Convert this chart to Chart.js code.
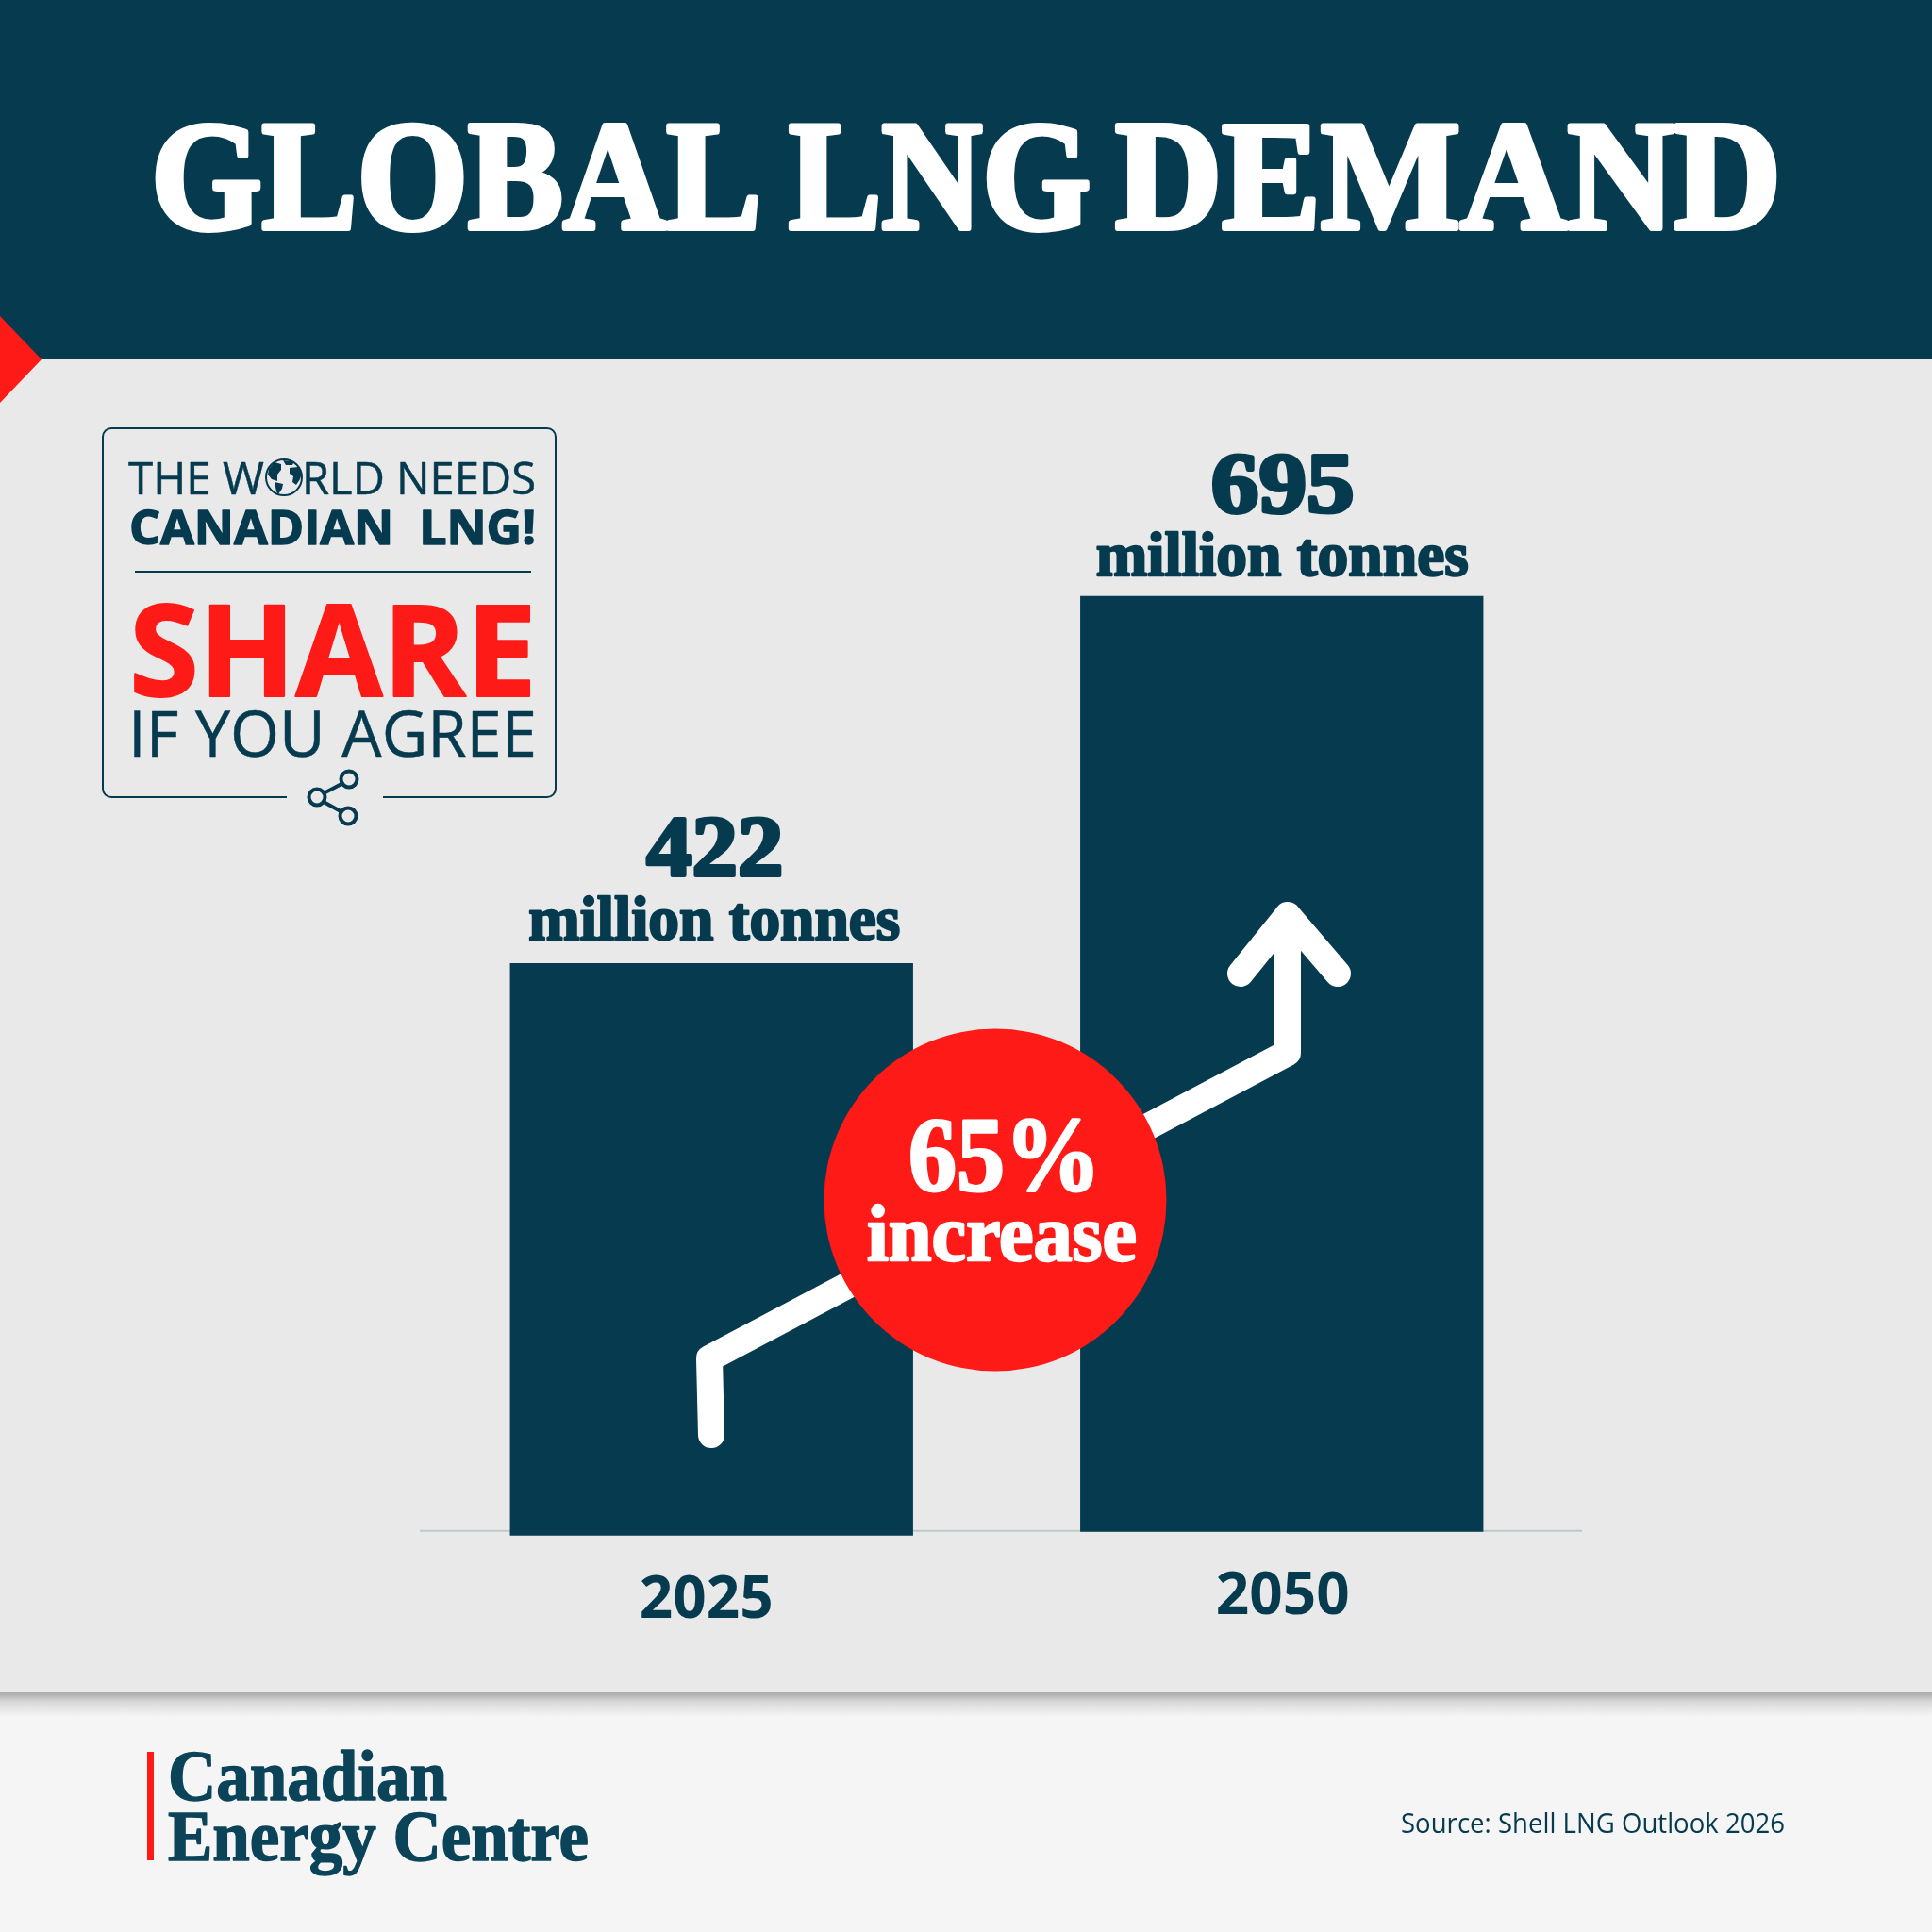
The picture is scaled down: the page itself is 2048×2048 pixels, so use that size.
<!DOCTYPE html>
<html>
<head>
<meta charset="utf-8">
<title>Global LNG Demand</title>
<script src="https://cdn.jsdelivr.net/npm/chart.js@4"></script>
<style>
  html, body { margin: 0; padding: 0; background: #e9e9ea; }
  canvas { display: block; }
</style>
</head>
<body>
<canvas id="lngChart" width="2048" height="2048"></canvas>
<script>
// chart data
const categories = ['2025', '2050'];
const demandValues = [422, 695];
const valueUnit = 'million tonnes';

const NAVY = '#063a4e';
const RED = '#fe1b17';
const PANEL = '#e9e9ea';
const SERIF = '"Liberation Serif"';
const SANS = '"Open Sans"';

// the two bars do not sit exactly on the axis line in the original
const barBases = [-3.5, -0.7];
const tickNudge = [[-5.5, 4], [1, 0]];

// draw text squeezed or stretched to a given left/right edge
function fitText(ctx, text, left, right, baseline, font, color, stroke) {
    ctx.save();
    ctx.font = font;
    ctx.fillStyle = color;
    ctx.textAlign = 'left';
    ctx.textBaseline = 'alphabetic';
    const w = ctx.measureText(text).width;
    ctx.translate(left, baseline);
    ctx.scale((right - left) / w, 1);
    ctx.fillText(text, 0, 0);
    if (stroke) {
        ctx.strokeStyle = color;
        ctx.lineWidth = stroke;
        ctx.lineJoin = 'round';
        ctx.strokeText(text, 0, 0);
    }
    ctx.restore();
}

// header, panel and footer behind the bars
const backgroundPlugin = {
    id: 'background',
    beforeDraw(chart) {
        const ctx = chart.ctx;
        ctx.save();
        ctx.fillStyle = PANEL;
        ctx.fillRect(0, 381, 2048, 1413);

        ctx.fillStyle = NAVY;
        ctx.fillRect(0, 0, 2048, 381);

        ctx.fillStyle = RED;
        ctx.beginPath();
        ctx.moveTo(0, 335);
        ctx.lineTo(44, 381);
        ctx.lineTo(0, 427);
        ctx.closePath();
        ctx.fill();

        ctx.fillStyle = '#f5f5f5';
        ctx.fillRect(0, 1794, 2048, 254);
        const shadow = ctx.createLinearGradient(0, 1794, 0, 1820);
        shadow.addColorStop(0, '#a9a9a9');
        shadow.addColorStop(0.4, '#d9d9d9');
        shadow.addColorStop(1, '#f5f5f5');
        ctx.fillStyle = shadow;
        ctx.fillRect(0, 1794, 2048, 26);
        ctx.restore();

        // axis line runs a bit wider than the plot area
        const x = chart.scales.x;
        const zero = chart.scales.y.getPixelForValue(0);
        ctx.save();
        ctx.strokeStyle = '#bcc9c9';
        ctx.lineWidth = 2;
        ctx.beginPath();
        ctx.moveTo(x.left - 7, zero);
        ctx.lineTo(x.right + 16, zero);
        ctx.stroke();
        ctx.restore();
    },
    afterUpdate(chart) {
        // small per-bar offsets seen in the reference
        const meta = chart.getDatasetMeta(0);
        meta.data.forEach((bar, i) => {
            bar.base = chart.scales.y.getPixelForValue(barBases[i]);
        });
        chart.scales.x.getLabelItems().forEach((item, i) => {
            item.options.translation[0] += tickNudge[i][0];
            item.options.translation[1] += tickNudge[i][1];
        });
    }
};

// value labels above each bar
const valueLabelPlugin = {
    id: 'valueLabels',
    afterDatasetsDraw(chart) {
        const ctx = chart.ctx;
        const bars = chart.getDatasetMeta(0).data;
        const numberBox = [[-69, 76], [-75, 77]];
        const unitBox = [[-194, 200], [-197, 198]];
        const numberGap = [93, 89];
        const unitGap = [25, 22];
        bars.forEach((bar, i) => {
            fitText(ctx, String(demandValues[i]), bar.x + numberBox[i][0], bar.x + numberBox[i][1],
                bar.y - numberGap[i], 'bold 90px ' + SERIF, NAVY, 4);
            fitText(ctx, valueUnit, bar.x + unitBox[i][0], bar.x + unitBox[i][1],
                bar.y - unitGap[i], 'bold 65px ' + SERIF, NAVY, 2.4);
        });
    }
};

// title, arrow, red badge, share box and footer
const overlayPlugin = {
    id: 'overlay',
    afterDraw(chart) {
        const ctx = chart.ctx;

        // title
        const titleFont = 'bold 166px ' + SERIF;
        fitText(ctx, 'GLOBAL', 160, 807, 242, titleFont, '#ffffff', 6);
        fitText(ctx, 'LNG', 836, 1156, 242, titleFont, '#ffffff', 6);
        fitText(ctx, 'DEMAND', 1182, 1888, 242, titleFont, '#ffffff', 6);

        // rising arrow
        ctx.save();
        ctx.strokeStyle = '#ffffff';
        ctx.lineWidth = 28;
        ctx.lineCap = 'round';
        ctx.lineJoin = 'round';
        ctx.beginPath();
        ctx.moveTo(754, 1521);
        ctx.lineTo(752, 1440);
        ctx.lineTo(1365, 1116);
        ctx.lineTo(1365, 970);
        ctx.moveTo(1315, 1032);
        ctx.lineTo(1365, 970);
        ctx.lineTo(1418, 1032);
        ctx.stroke();

        // badge
        ctx.fillStyle = RED;
        ctx.beginPath();
        ctx.arc(1055, 1272, 181.5, 0, Math.PI * 2);
        ctx.fill();
        ctx.restore();
        fitText(ctx, '65%', 963, 1167, 1262, 'bold 112px ' + SERIF, '#ffffff', 3);
        fitText(ctx, 'increase', 919, 1205, 1336, 'bold 84px ' + SERIF, '#ffffff', 2.5);

        drawShareBox(ctx);

        // footer logo and source
        ctx.save();
        ctx.fillStyle = RED;
        ctx.fillRect(156, 1857, 7, 115);
        ctx.restore();
        fitText(ctx, 'Canadian', 178, 474, 1908, 'bold 76px ' + SERIF, '#0b4459', 1.5);
        fitText(ctx, 'Energy Centre', 178, 624, 1972, 'bold 76px ' + SERIF, '#0b4459', 1.5);
        fitText(ctx, 'Source: Shell LNG Outlook 2026', 1485, 1892, 1943, '29px ' + SANS, NAVY);
    }
};

function fillShape(ctx, points) {
    ctx.beginPath();
    points.forEach((p, i) => i ? ctx.lineTo(p[0], p[1]) : ctx.moveTo(p[0], p[1]));
    ctx.closePath();
    ctx.fill();
}

function drawShareBox(ctx) {
    ctx.save();
    ctx.strokeStyle = NAVY;
    ctx.lineWidth = 2;

    // box outline with a gap at the bottom for the share icon
    const r = 9;
    ctx.beginPath();
    ctx.moveTo(304, 845);
    ctx.lineTo(109 + r, 845);
    ctx.arcTo(109, 845, 109, 845 - r, r);
    ctx.lineTo(109, 454 + r);
    ctx.arcTo(109, 454, 109 + r, 454, r);
    ctx.lineTo(589 - r, 454);
    ctx.arcTo(589, 454, 589, 454 + r, r);
    ctx.lineTo(589, 845 - r);
    ctx.arcTo(589, 845, 589 - r, 845, r);
    ctx.lineTo(406, 845);
    ctx.stroke();

    // divider
    ctx.beginPath();
    ctx.moveTo(143, 606);
    ctx.lineTo(563, 606);
    ctx.stroke();

    // globe in place of the O
    ctx.fillStyle = PANEL;
    ctx.lineWidth = 2;
    ctx.beginPath();
    ctx.arc(301, 506, 19, 0, Math.PI * 2);
    ctx.fill();
    ctx.stroke();
    ctx.fillStyle = NAVY;
    fillShape(ctx, [[285, 497], [291, 490], [298, 492], [298, 498], [294, 503], [294, 510], [288, 508], [284, 503]]);
    fillShape(ctx, [[291, 511], [300, 513], [299, 518], [295, 524], [293, 521]]);
    fillShape(ctx, [[300, 488], [312, 489], [310, 493], [303, 493]]);
    fillShape(ctx, [[307, 496], [316, 495], [320, 501], [318, 508], [314, 514], [310, 511], [311, 505], [307, 502]]);

    // share icon
    ctx.lineWidth = 4;
    ctx.beginPath();
    ctx.moveTo(362, 831);
    ctx.lineTo(343, 841);
    ctx.moveTo(343, 850);
    ctx.lineTo(361, 860);
    ctx.stroke();
    [[370, 826], [336, 845], [369, 865]].forEach(c => {
        ctx.beginPath();
        ctx.arc(c[0], c[1], 8.5, 0, Math.PI * 2);
        ctx.stroke();
    });
    ctx.restore();

    fitText(ctx, 'THE W', 136, 280, 524, '48px ' + SANS, NAVY, 0.5);
    fitText(ctx, 'RLD NEEDS', 320, 568, 524, '48px ' + SANS, NAVY, 0.5);
    fitText(ctx, 'CANADIAN  LNG!', 137, 568, 577, 'bold 50px ' + SANS, NAVY, 1.5);
    fitText(ctx, 'SHARE', 137, 569, 738, 'bold 134px ' + SANS, RED, 2);
    fitText(ctx, 'IF YOU AGREE', 136, 569, 802, '67px ' + SANS, NAVY, 0.5);
}

const chart = new Chart(document.getElementById('lngChart').getContext('2d'), {
    type: 'bar',
    data: {
        labels: categories,
        datasets: [{
            label: 'Global LNG demand (million tonnes)',
            data: demandValues,
            backgroundColor: NAVY,
            barPercentage: 427 / 604,
            categoryPercentage: 1
        }]
    },
    plugins: [backgroundPlugin, valueLabelPlugin, overlayPlugin],
    options: {
        responsive: false,
        animation: false,
        layout: { padding: { left: 452, right: 387, top: 482, bottom: 300 } },
        plugins: {
            legend: { display: false },
            tooltip: { enabled: false }
        },
        scales: {
            x: {
                grid: { display: false },
                border: { display: false },
                afterFit(scale) { scale.height = 118; },
                ticks: {
                    color: NAVY,
                    padding: 18,
                    maxRotation: 0,
                    font: { family: 'Noto Sans', size: 62, weight: 'bold' }
                }
            },
            y: {
                display: false,
                min: -5,
                max: 800
            }
        }
    }
});
</script>
</body>
</html>
